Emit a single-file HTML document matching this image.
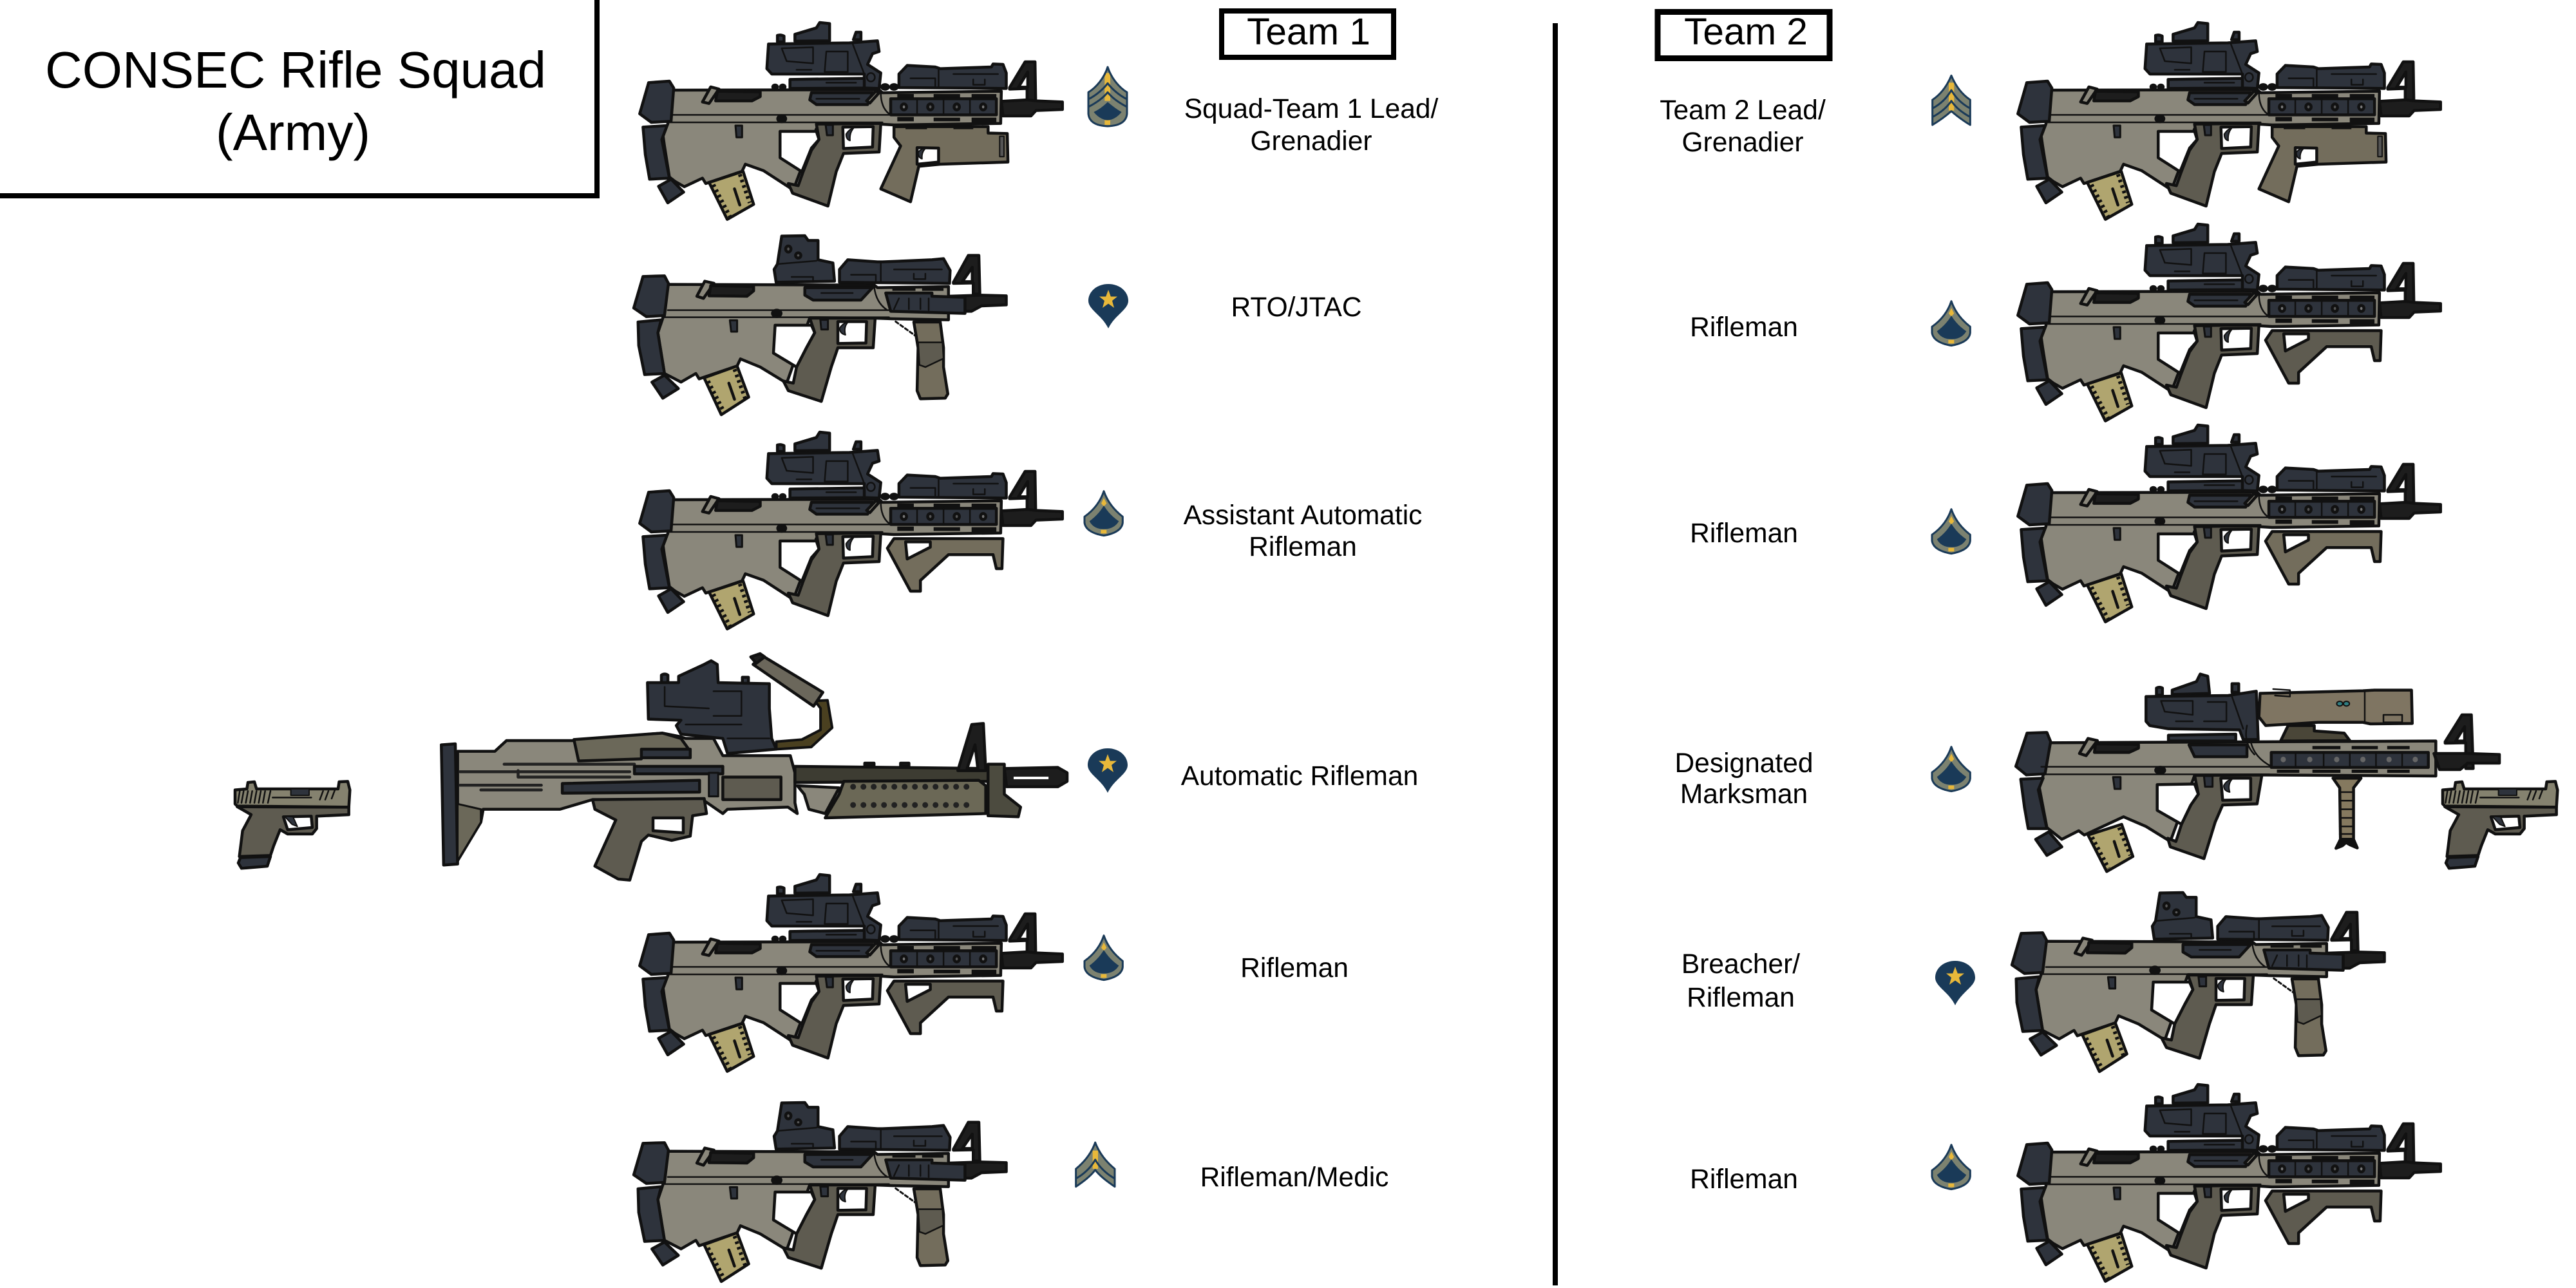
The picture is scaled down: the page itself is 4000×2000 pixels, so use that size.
<!DOCTYPE html>
<html><head><meta charset="utf-8"><style>
html,body{margin:0;padding:0;background:#fff}
svg{display:block}
svg *{vector-effect:non-scaling-stroke}
text{font-family:"Liberation Sans",Arial,sans-serif;fill:#000;stroke:none;text-anchor:middle}
.lb{font-size:42.5px}
.g{stroke:#111;stroke-width:4.5;stroke-linejoin:round;stroke-linecap:round}
.th{stroke-width:2.5;fill:none}
.d{fill:#2e333c}.b{fill:#8a877b}.m{fill:#5e5b50}.t{fill:#736d5c}.y{fill:#b0a56f}.w{fill:#fff}.k{fill:#1d1d1d}
.nv{stroke:#1a3a58;stroke-width:3;fill:none;stroke-linejoin:round}
</style></head><body>
<svg width="4000" height="2000" viewBox="0 0 4000 2000" xmlns="http://www.w3.org/2000/svg">
<defs>
<g id="frame" class="g">
<path class="b" d="M160,420L790,418L800,432L1160,425L1158,575L835,582L790,578L600,600L530,885L440,795L385,765L375,798L265,855L255,830L200,870L172,845L155,825L140,680L135,625L150,578Z"/>
<path class="w" d="M490,612L600,612L608,650L585,690L556,800L490,735Z"/>
<path class="y" d="M275,850L378,798L410,952L330,1022Z"/>
<path fill="none" stroke="#111" stroke-width="6" stroke-linecap="butt" stroke-dasharray="4 5" d="M288,860L338,1008"/>
<path fill="none" stroke="#111" stroke-width="6" stroke-linecap="butt" stroke-dasharray="4 5" d="M368,812L398,945"/>
<path fill="none" d="M352,880L368,955"/>
<path class="m" d="M600,578L795,575L790,708L682,715L660,800L635,960L528,900L515,855L545,865L560,800L585,700L608,650Z"/>
<path class="w" d="M680,592L772,590L770,685L682,692Z"/>
<path class="d" stroke-width="2" d="M690,625Q700,600 712,598Q700,620 702,655Q690,650 690,625Z"/>
<path class="d" d="M92,385L155,378L168,410L160,565L100,570L65,530Z"/>
<path class="d" d="M75,592L148,585L132,650L155,830L95,835L82,720Z"/>
<path class="d" d="M122,868L160,835L198,895L150,945Z"/>
<path class="b" d="M255,475L280,405L305,415L275,482Z"/>
<path class="k" d="M300,425L430,428L430,450L405,470L295,470Z"/>
<path class="th" d="M165,535H820M150,570H800"/>
<path class="th" d="M795,430Q795,500 820,530"/>
<ellipse cx="495" cy="553" rx="12" ry="14" fill="#111"/>
<path class="d" stroke-width="3" d="M355,585H375V640H358Z"/>
<path class="d" stroke-width="3" d="M628,582H650V630H632Z"/>
<path class="d" d="M825,460H1145V535H825Z"/>
<path class="th" stroke-width="3.5" d="M905,460V535M985,460V535M1065,460V535"/>
<ellipse cx="865" cy="498" rx="8" ry="14" fill="#777"/><ellipse cx="945" cy="498" rx="8" ry="14" fill="#555"/><ellipse cx="1025" cy="498" rx="8" ry="14" fill="#555"/><ellipse cx="1105" cy="498" rx="8" ry="14" fill="#777"/>
<path fill="#111" stroke="none" d="M845,438H895V455H845ZM955,438H1035V455H955ZM1070,438H1145V455H1070ZM845,545H895V565H845ZM955,548H1035V565H955ZM1070,548H1145V570H1070Z"/>
<path class="k" fill-rule="evenodd" d="M1185,408L1232,288L1262,288L1264,470L1238,470L1238,412L1185,415ZM1212,406L1240,335L1240,406Z"/>
<path class="k" d="M1160,472L1240,465L1265,470L1345,475L1345,510L1265,515L1250,540L1165,540Z"/>
<path class="d" d="M850,345L875,305L960,312L975,320L1130,312L1135,298L1165,300L1175,340L1175,412L850,408Z"/>
<path class="th" d="M970,320V410M885,365H960V400M1015,345H1150M1075,370V395H1110V370"/>
</g>
<g id="acog" class="g">
<path class="d" d="M535,160L600,130L610,105L640,110L640,190L535,192Z"/>
<path class="d" d="M482,195V165Q492,160 502,168V195ZM712,185L720,150L735,150L735,185Z"/>
<path class="d" d="M520,370L745,365L780,410L520,412Z"/>
<path class="d" d="M585,432L770,432L755,487L600,487L580,465Z"/>
<path class="d" d="M455,205L700,200L785,190L790,240L770,250L755,300L795,340L790,412L745,410L745,345L540,345L465,345L450,320Z"/>
<path class="th" d="M495,225L590,220V295L510,285ZM630,240H695V335H625ZM710,205L745,345M540,325H585M600,460H730M630,385H720"/>
<ellipse cx="765" cy="360" rx="12" ry="20" fill="none" stroke="#111" stroke-width="2.5"/>
<ellipse cx="475" cy="405" rx="7" ry="9" fill="#111"/><ellipse cx="498" cy="405" rx="7" ry="9" fill="#111"/>
<ellipse cx="808" cy="405" rx="10" ry="11" fill="#111"/><ellipse cx="835" cy="405" rx="10" ry="11" fill="#111"/>
<path class="b" d="M752,470L780,425L790,432L762,480Z"/>
</g>
<g id="rifle"><use href="#frame"/><use href="#acog"/></g>
<g id="gl" class="g">
<path class="t" d="M835,590L1120,590L1120,620L1178,622L1180,755L975,765L910,775L885,940L795,880L855,680L835,640Z"/>
<path class="w" d="M905,688L970,690L970,755L905,765Z"/>
<path class="d" stroke-width="2" d="M908,710Q918,690 930,692Q918,710 920,740Q908,735 908,710Z"/>
<path fill="#111" stroke="none" d="M870,590H935V602H870ZM1015,590H1075V602H1015Z"/>
<path fill="#555" d="M1155,635H1168V730H1155Z" stroke-width="2"/>
</g>
<g id="afg" class="g">
<path d="M815,646L835,601L1165,601L1162,741L1145,741L1135,676L1000,676L915,796L915,846L885,846Z"/>
<path class="w" d="M870,616L945,616L945,641L875,696Z"/>
</g>
<g id="short">
<g class="g">
<path class="b" d="M145,305L775,308L785,320L1000,315L1000,470L830,465L775,462L580,460L510,765L430,690L370,652L360,685L245,745L235,720L190,760L140,720L120,530L135,462Z"/>
<path class="w" d="M475,495L585,495L595,530L570,600L540,690L470,625Z"/>
<path class="y" d="M260,740L360,685L395,830L312,912Z"/>
<path fill="none" stroke="#111" stroke-width="6" stroke-linecap="butt" stroke-dasharray="4 5" d="M272,755L320,898"/>
<path fill="none" stroke="#111" stroke-width="6" stroke-linecap="butt" stroke-dasharray="4 5" d="M352,700L384,835"/>
<path fill="none" d="M335,765L352,840"/>
<path class="m" d="M580,462L778,462L772,600L665,600L645,690L615,850L515,800L500,755L530,765L540,690L570,600L595,530Z"/>
<path class="w" d="M665,478L752,478L750,578L665,580Z"/>
<path class="d" stroke-width="2" d="M670,510Q680,485 695,482Q682,505 688,540Q672,535 670,510Z"/>
<path class="d" d="M75,268L140,265L152,300L140,450L85,455L47,415Z"/>
<path class="d" d="M60,480L130,470L120,530L140,720L80,725L62,590Z"/>
<path class="d" d="M102,760L140,728L182,790L135,835Z"/>
<path class="b" d="M238,360L262,290L290,300L258,370Z"/>
<path class="k" d="M280,310L410,315L410,335L390,360L275,358Z"/>
<path class="th" d="M150,425H830M135,458H820M775,315Q780,390 815,425"/>
<ellipse cx="480" cy="440" rx="13" ry="15" fill="#111"/>
<path class="d" stroke-width="3" d="M338,472H360V525H342Z"/>
<path class="d" stroke-width="3" d="M612,470H635V515H615Z"/>
<path class="d" d="M565,320L770,320L735,378L590,378L565,355Z"/>
<path class="th" d="M615,345H710"/>
<path class="d" d="M495,80L565,78L575,100L605,100L605,190L650,205L655,290L478,295L472,235L482,210Z"/>
<path class="th" d="M482,210L600,195M525,270H590V295"/>
<ellipse cx="515" cy="140" rx="8" ry="14" fill="#555"/><ellipse cx="545" cy="170" rx="8" ry="12" fill="#555"/>
<path class="k" fill-rule="evenodd" d="M1015,295L1060,170L1092,170L1095,350L1075,350L1075,298L1015,300ZM1042,292L1072,225L1072,292Z"/>
<path class="k" d="M1000,360L1100,355L1175,358L1175,400L1100,405L1070,430L1000,430Z"/>
<path class="d" d="M670,235L695,190L785,200L800,200L950,190L985,185L1005,240L1003,300L670,295Z"/>
<path class="th" d="M795,205V295M705,260H780V290M835,235H980M895,255V280H930V255"/>
<path class="d" d="M810,345L950,345L950,360L1050,365L1050,440L825,430Z"/>
<path class="th" d="M850,370L835,420M880,370V420M915,370V420M940,370V425"/>
<path fill="#111" stroke="none" d="M830,322H900V335H830ZM920,322H985V335H920Z"/>
<path fill="none" stroke="#111" stroke-width="3" stroke-dasharray="5 4" d="M840,478L905,550"/>
<path class="t" d="M895,480L975,480L985,600L985,690L998,815L990,835L915,838L905,800L908,600Z"/>
<path class="m" stroke-width="2.5" d="M908,575L982,575L985,650L930,690L912,680Z"/>
</g>
</g>
<g id="pistol" class="g" stroke-width="4">
<path fill="#85826f" d="M75,110L130,105L135,75L165,72L175,105L555,105L560,72L600,70L610,110L605,190L85,185L75,175Z"/>
<path class="m" d="M85,188L605,190L605,225L455,232L455,290L435,315L320,315L285,295L255,370L240,415L95,420L110,300L150,225Z"/>
<path class="w" d="M300,235L430,232L435,285L320,295Z"/>
<path class="d" stroke-width="2" d="M305,232L345,235L365,280L340,270Z"/>
<path class="d" d="M100,425L240,420L225,465L105,475L90,450Z"/>
<path class="d" stroke-width="2" d="M335,105H420V135H335Z"/>
<path class="th" d="M97,115L88,170M115,115L105,170M135,115L125,170M155,115L145,170M175,115L165,170M195,115L185,170M215,115L205,170M240,115L228,170M250,145H430M485,115L470,155M510,115L495,155M540,110L525,150"/>
</g>
<g id="ssg"><path fill="#7c8270" d="M180,72C195,120 230,165 270,190V290Q265,345 180,348Q95,345 90,290V190C130,165 165,120 180,72Z"/>
<path fill="#e8b83a" d="M166,100H192V230H166ZM166,320H192V342H166Z"/>
<path class="nv" stroke-width="3" d="M180,72C195,120 230,165 270,190V290Q265,345 180,348Q95,345 90,290V190C130,165 165,120 180,72ZM90,222C125,205 160,175 180,148C200,175 235,205 270,222M90,258C125,240 160,215 180,190C200,215 235,240 270,258"/>
<path fill="#1a3a58" d="M115,282Q150,265 180,235Q215,265 245,282Q215,318 180,320Q145,318 115,282Z"/></g>
<g id="sgt"><path fill="#7c8270" d="M150,52C170,100 200,140 238,165V282C205,262 175,240 150,218C125,240 95,262 62,282V165C100,140 130,100 150,52Z"/>
<path fill="#e8b83a" d="M138,85H163V215H138Z"/>
<path class="nv" d="M150,52C170,100 200,140 238,165V282C205,262 175,240 150,218C125,240 95,262 62,282V165C100,140 130,100 150,52ZM62,205C100,185 130,155 150,120C170,155 200,185 238,205M62,245C100,225 130,200 150,170C170,200 200,225 238,245"/></g>
<g id="cpl"><path fill="#7c8270" d="M122,12C140,60 170,100 213,135V218C180,195 145,170 122,140C100,170 65,195 32,218V135C75,100 105,60 122,12Z"/>
<path fill="#e8b83a" d="M110,50H135V135H110Z"/>
<path class="nv" d="M122,12C140,60 170,100 213,135V218C180,195 145,170 122,140C100,170 65,195 32,218V135C75,100 105,60 122,12ZM32,180C70,160 105,125 122,92C140,125 175,160 213,180"/></g>
<g id="pfc"><path fill="#7c8270" class="nv" d="M162,38C180,90 215,130 250,157V185Q245,230 162,245Q78,230 72,185V157C110,130 145,90 162,38Z" style="fill:#7c8270"/>
<path fill="#e8b83a" d="M150,95L162,70L175,95L162,110ZM148,218H175V235H148Z"/>
<path fill="#1a3a58" d="M162,105C180,135 205,160 232,178Q210,215 162,215Q115,215 95,178C120,160 145,135 162,105Z"/></g>
<g id="spc"><path fill="#1a3a58" d="M0,0C18,0 31,12 31,26C31,40 10,48 0,69C-10,48 -31,40 -31,26C-31,12 -18,0 0,0Z"/>
<path fill="#e8b83a" d="M0,9L3.8,19.5L14,19.5L6,26L9,37L0,30.5L-9,37L-6,26L-14,19.5L-3.8,19.5Z"/></g>
</defs>

<!-- title -->
<path fill="#000" d="M923,0H931V308H0V300H923Z"/>
<text x="459" y="136" font-size="80">CONSEC Rifle Squad</text>
<text x="455" y="233" font-size="80">(Army)</text>

<!-- headers -->
<rect x="1897" y="17" width="267" height="72" fill="none" stroke="#000" stroke-width="8"/>
<rect x="2574" y="18.5" width="267" height="72" fill="none" stroke="#000" stroke-width="9"/>
<text x="2032" y="69" font-size="58.5">Team 1</text>
<text x="2711" y="69" font-size="58.5">Team 2</text>
<rect x="2411" y="36" width="8" height="1960" fill="#000"/>

<!-- team 1 guns -->
<g transform="translate(960,0) scale(.5128,.3333)"><use href="#rifle"/><use href="#gl"/></g>
<g transform="translate(960,340) scale(.5128,.3333)"><use href="#short"/></g>
<g transform="translate(960,636) scale(.5128,.3333)"><use href="#afg" fill="#736d5c"/><use href="#rifle"/></g>
<g transform="translate(960,1323) scale(.5128,.3333)"><use href="#afg" fill="#5e5b50"/><use href="#rifle"/></g>
<g transform="translate(960,1686) scale(.5128,.3333)"><use href="#short"/></g>

<!-- machine gun -->
<g transform="translate(660,1000) scale(.7225,.3333)" class="g">
<path class="b" d="M70,500L150,500L175,450L320,450L510,415L545,430L560,440L620,440L640,520L785,520L795,600L795,740L800,790L780,760L650,770L640,790L600,730L360,725L290,770L125,770L120,830L70,1010Z"/>
<path fill="#6b6859" d="M320,445L510,415L550,440L570,500L470,500L465,535L330,545Z"/>
<path fill="none" stroke="#222" d="M170,560H450V590M75,595H440M75,658H250M120,680H250M200,590V620H440"/>
<path class="d" d="M465,490H570V530H465Z"/>
<path class="d" d="M450,570H640V605H450Z"/>
<path class="d" d="M295,650L590,635L590,690L295,695Z"/>
<path class="d" stroke-width="3" d="M610,600H630V710H610Z"/>
<path class="m" d="M640,620H765V725H640Z"/>
<path class="m" d="M360,725L600,720L605,790L575,800L570,895L530,915L480,890L465,920L440,1100L415,1095L365,1035L410,820L365,770Z"/>
<path class="w" d="M490,810L555,810L555,880L490,870Z"/>
<path class="d" d="M35,470L65,465L70,1025L40,1030Z"/>
<path fill="#6b6859" stroke-width="3" d="M70,745L120,770L120,830L70,1010Z"/>
<path class="d" d="M508,180V145Q515,135 522,145V180ZM682,185V155H695V185Z"/>
<path class="d" d="M478,180L545,180L545,150L600,95L615,78L628,95L630,180L740,185L740,300L745,440L755,490L650,510L640,440L550,420L540,380L550,355L480,350Z"/>
<path class="th" d="M515,200V290L610,300M620,220H680V335H620M560,375H680M650,440H740"/>
<path fill="#4a4020" stroke-width="4" d="M755,455L810,445L850,400L850,300L838,265L865,262L875,390L830,480L755,490Z"/>
<path fill="#6b675b" d="M705,95L725,55L855,225L835,290Z"/>
<path class="k" d="M700,60L720,45L730,60L712,90Z"/>
<path class="k" d="M945,570V555H965V570ZM1022,570V555H1040V570Z"/>
<path fill="#3d3c32" d="M795,570L1210,580L1210,640L795,645Z"/>
<path class="k" fill-rule="evenodd" d="M1145,590L1175,375L1200,370L1205,590ZM1165,580L1182,470L1188,580Z"/>
<path fill="#8a877b" d="M800,660L890,670L860,790L825,770L815,700Z"/>
<path fill="#6b6856" d="M900,640L1190,635L1205,660L1205,790L860,810L890,700Z"/>
<path fill="none" stroke="#222" stroke-width="9" stroke-dasharray="0 16" d="M920,665H1165M920,750H1165"/>
<path fill="#4c4b3f" d="M1210,560L1245,560L1245,700L1280,760L1275,805L1210,800Z"/>
<path class="k" d="M1245,580L1360,575L1380,600L1380,640L1360,665L1250,665Z"/>
<path fill="#fff" stroke="none" d="M1265,618H1340V630H1265Z"/>
</g>

<!-- designated marksman -->
<g transform="translate(3100,1020) scale(.5807,.3333)" class="g">
<path class="b" d="M140,400L1175,392L1175,555L710,550L530,552L465,860L400,790L340,745L235,830L220,810L175,850L135,795L115,610L125,552Z"/>
<path class="w" d="M430,595L530,592L540,640L520,690L495,780L430,715Z"/>
<path class="y" d="M245,830L335,780L365,930L295,1000Z"/>
<path fill="none" stroke="#111" stroke-width="6" stroke-linecap="butt" stroke-dasharray="4 5" d="M256,840L300,985"/>
<path fill="none" stroke="#111" stroke-width="6" stroke-linecap="butt" stroke-dasharray="4 5" d="M328,795L358,925"/>
<path fill="none" d="M315,860L328,930"/>
<path class="m" d="M530,552L710,550L697,685L605,690L585,770L555,940L465,885L458,845L480,860L495,780L520,690L540,640Z"/>
<path class="w" d="M600,565L680,565L680,665L605,668Z"/>
<path class="d" stroke-width="2" d="M608,600Q615,575 630,570Q618,595 624,630Q608,625 608,600Z"/>
<path class="d" d="M82,355L135,352L145,395L130,545L80,550L52,510Z"/>
<path class="d" d="M65,570L125,565L112,620L135,800L85,800L75,700Z"/>
<path class="d" d="M105,850L140,815L175,885L135,925Z"/>
<path class="b" d="M222,450L245,380L270,390L240,460Z"/>
<path class="k" d="M265,405L380,408L380,425L355,445L262,445Z"/>
<path class="th" d="M120,512H740M128,547H730"/>
<ellipse cx="438" cy="528" rx="12" ry="14" fill="#111"/>
<path class="d" stroke-width="3" d="M312,560H332V615H316Z"/>
<path class="d" stroke-width="3" d="M555,555H578V605H558Z"/>
<path class="d" d="M470,155L535,115L545,80L565,90L570,170L470,175Z"/>
<path class="d" d="M428,178V145Q436,138 444,145V178ZM630,165V125H648V165Z"/>
<path class="d" d="M515,410L670,410L670,465L530,465Z"/>
<path class="d" d="M460,365L640,360L640,392L460,392Z"/>
<path class="d" d="M400,185L620,180L695,160L700,385L660,385L650,340L460,335L410,320L400,300Z"/>
<path class="th" d="M440,205L525,205V270L450,255ZM565,210H615V300H555M630,185L660,335M480,300H525"/>
<path fill="#4a4638" d="M780,320L850,320L850,345L930,355L945,390L760,392Z"/>
<path fill="#7f7562" d="M705,170L980,158L1010,155L1110,155L1112,310L1000,312L980,305L860,305L720,320L702,280Z"/>
<path class="th" d="M985,165V305M1035,270H1085V305H1035ZM740,150L785,155V185L745,180"/>
<ellipse cx="918" cy="218" rx="8" ry="11" fill="#2f7d80" stroke-width="2"/><ellipse cx="936" cy="218" rx="8" ry="11" fill="#2f7d80" stroke-width="2"/>
<path class="d" d="M735,445H1155V515H735Z"/>
<path class="th" stroke-width="3.5" d="M800,445V515M875,445V515M945,445V515M1015,445V515M1085,445V515"/>
<g fill="#666" stroke="none"><ellipse cx="767" cy="478" rx="7" ry="13"/><ellipse cx="838" cy="478" rx="7" ry="13"/><ellipse cx="910" cy="478" rx="7" ry="13"/><ellipse cx="980" cy="478" rx="7" ry="13"/><ellipse cx="1050" cy="478" rx="7" ry="13"/><ellipse cx="1120" cy="478" rx="7" ry="13"/></g>
<path fill="#111" stroke="none" d="M845,415H920V430H845ZM950,415H1020V430H950ZM1045,415H1105V430H1045ZM750,525H810V540H750ZM845,525H920V540H845ZM950,525H1020V540H950ZM1045,525H1105V540H1045Z"/>
<path class="th" d="M680,395Q690,470 735,510M670,320Q660,400 690,455"/>
<path class="k" fill-rule="evenodd" d="M1200,395L1245,270L1270,270L1275,520L1255,520L1255,400L1200,402ZM1228,392L1252,325L1252,392Z"/>
<path class="k" d="M1170,450L1260,450L1345,455L1345,495L1260,495L1240,525L1185,525Z"/>
<path fill="#85795f" d="M900,565L975,565L955,610L955,850L920,850L918,610Z"/>
<path fill="none" stroke="#111" stroke-width="2.5" d="M918,630H955M918,670H955M918,710H955M918,750H955M918,790H955M918,825H955"/>
<path fill="#111" stroke="#111" d="M920,850L955,850L965,890L945,875L935,865L925,880L908,892Z"/>
</g>

<!-- team 2 guns -->
<g transform="translate(3100,0) scale(.5128,.3333)"><use href="#rifle"/><use href="#gl"/></g>
<g transform="translate(3100,313) scale(.5128,.3333)"><use href="#afg" fill="#5e5b50"/><use href="#rifle"/></g>
<g transform="translate(3100,625) scale(.5128,.3333)"><use href="#afg" fill="#736d5c"/><use href="#rifle"/></g>
<g transform="translate(3100,1360) scale(.5128,.3333)"><use href="#short"/></g>
<g transform="translate(3100,1649) scale(.5128,.3333)"><use href="#afg" fill="#5e5b50"/><use href="#rifle"/></g>

<!-- pistols -->
<g transform="translate(340,1190) scale(.3333)"><use href="#pistol"/></g>
<g transform="translate(3768,1190) scale(.3333)"><use href="#pistol"/></g>

<!-- ranks -->
<g transform="translate(1660,80) scale(.3333)"><use href="#ssg"/></g>
<use href="#spc" x="1721" y="441"/>
<g transform="translate(1660,750) scale(.3333)"><use href="#pfc"/></g>
<use href="#spc" x="1720" y="1162"/>
<g transform="translate(1660,1440) scale(.3333)"><use href="#pfc"/></g>
<g transform="translate(1660,1770) scale(.3333)"><use href="#cpl"/></g>
<g transform="translate(2980,100) scale(.3333)"><use href="#sgt"/></g>
<g transform="translate(2976,455) scale(.3333)"><use href="#pfc"/></g>
<g transform="translate(2976,778) scale(.3333)"><use href="#pfc"/></g>
<g transform="translate(2976,1147) scale(.3333)"><use href="#pfc"/></g>
<use href="#spc" x="3036" y="1492"/>
<g transform="translate(2976,1765) scale(.3333)"><use href="#pfc"/></g>

<!-- labels -->
<g class="lb">
<text x="2036" y="183">Squad-Team 1 Lead/</text><text x="2036" y="233">Grenadier</text>
<text x="2013" y="491">RTO/JTAC</text>
<text x="2023" y="814">Assistant Automatic</text><text x="2023" y="863">Rifleman</text>
<text x="2018" y="1219">Automatic Rifleman</text>
<text x="2010" y="1517">Rifleman</text>
<text x="2010" y="1842">Rifleman/Medic</text>
<text x="2706" y="185">Team 2 Lead/</text><text x="2706" y="235">Grenadier</text>
<text x="2708" y="522">Rifleman</text>
<text x="2708" y="842">Rifleman</text>
<text x="2708" y="1199">Designated</text><text x="2708" y="1247">Marksman</text>
<text x="2703" y="1511">Breacher/</text><text x="2703" y="1563">Rifleman</text>
<text x="2708" y="1845">Rifleman</text>
</g>
</svg>
</body></html>
